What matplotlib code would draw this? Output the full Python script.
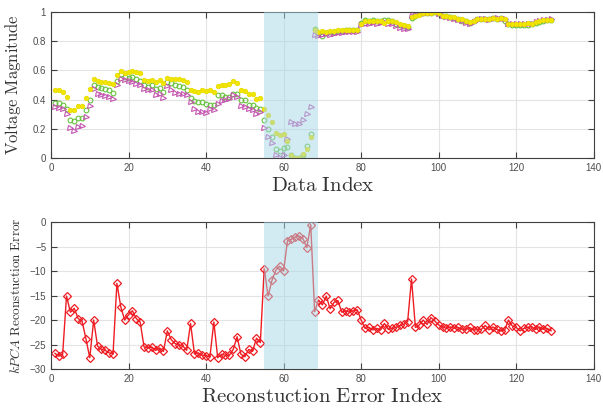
import numpy as np
import matplotlib
matplotlib.use('Agg')
import matplotlib.pyplot as plt

plt.rcParams['mathtext.fontset'] = 'cm'
plt.rcParams['font.family'] = ['Liberation Sans', 'DejaVu Sans']

idx = np.arange(1, 130)

# tension (3 séries)
volt_yellow = [0.463, 0.463, 0.452, 0.418, 0.331, 0.326, 0.354, 0.358, 0.411, 0.475,
               0.539, 0.527, 0.523, 0.518, 0.514, 0.509, 0.566, 0.596, 0.582, 0.589,
               0.594, 0.589, 0.582, 0.532, 0.525, 0.532, 0.521, 0.532, 0.516, 0.55,
               0.543, 0.543, 0.539, 0.537, 0.521, 0.468, 0.459, 0.452, 0.463, 0.457,
               0.463, 0.452, 0.493, 0.502, 0.502, 0.505, 0.527, 0.514, 0.468, 0.459,
               0.441, 0.441, 0.406, 0.411, 0.338, 0.292, 0.247, 0.171, 0.155, 0.167,
               0.116, 0.023, 0.003, 0.003, 0.025, 0.064, 0.144, 0.874, 0.863, 0.868,
               0.86, 0.868, 0.872, 0.875, 0.875, 0.878, 0.878, 0.878, 0.88, 0.92,
               0.938, 0.935, 0.94, 0.935, 0.938, 0.925, 0.935, 0.938, 0.93, 0.915,
               0.91, 0.905, 0.966, 0.975, 0.982, 0.99, 0.995, 0.99, 0.998, 0.99,
               0.975, 0.97, 0.965, 0.965, 0.955, 0.95, 0.94, 0.93, 0.94, 0.95,
               0.955, 0.955, 0.95, 0.96, 0.955, 0.96, 0.955, 0.92, 0.915, 0.918,
               0.92, 0.92, 0.925, 0.92, 0.93, 0.935, 0.945, 0.948, 0.948]
volt_green = [0.377, 0.377, 0.36, 0.338, 0.258, 0.251, 0.274, 0.274, 0.329, 0.4,
              0.502, 0.486, 0.482, 0.473, 0.463, 0.447, 0.525, 0.578, 0.555, 0.55,
              0.555, 0.539, 0.527, 0.498, 0.486, 0.498, 0.475, 0.479, 0.452, 0.521,
              0.514, 0.498, 0.493, 0.486, 0.463, 0.413, 0.39, 0.384, 0.384, 0.368,
              0.365, 0.365, 0.434, 0.429, 0.418, 0.418, 0.441, 0.436, 0.395, 0.395,
              0.365, 0.36, 0.345, 0.338, 0.258, 0.2, 0.144, 0.064, 0.048, 0.068,
              0.075, 0.023, 0.003, 0.003, 0.023, 0.08, 0.162, 0.881, 0.856, 0.835,
              0.855, 0.86, 0.865, 0.87, 0.872, 0.875, 0.875, 0.875, 0.878, 0.925,
              0.947, 0.94, 0.945, 0.94, 0.935, 0.945, 0.945, 0.935, 0.92, 0.91,
              0.905, 0.9, 0.96, 0.97, 0.985, 0.995, 0.995, 0.995, 1.0, 0.99,
              0.975, 0.97, 0.965, 0.96, 0.95, 0.94, 0.935, 0.925, 0.935, 0.95,
              0.955, 0.95, 0.95, 0.96, 0.955, 0.96, 0.94, 0.915, 0.912, 0.912,
              0.91, 0.912, 0.91, 0.915, 0.925, 0.93, 0.94, 0.945, 0.945]
volt_magenta = [0.35, 0.345, 0.333, 0.304, 0.205, 0.185, 0.212, 0.217, 0.281, 0.354,
                0.473, 0.441, 0.434, 0.425, 0.418, 0.404, 0.502, 0.543, 0.532, 0.525,
                0.521, 0.505, 0.502, 0.475, 0.468, 0.463, 0.434, 0.441, 0.411, 0.491,
                0.463, 0.445, 0.441, 0.441, 0.429, 0.384, 0.338, 0.315, 0.315, 0.308,
                0.338, 0.326, 0.372, 0.39, 0.4, 0.406, 0.429, 0.418, 0.356, 0.349,
                0.338, 0.326, 0.304, 0.315, 0.205, 0.144, 0.105, 0.018, 0.003, 0.018,
                0.128, 0.247, 0.23, 0.23, 0.258, 0.304, 0.35, 0.845, 0.833, 0.845,
                0.85, 0.845, 0.85, 0.855, 0.858, 0.86, 0.86, 0.862, 0.865, 0.91,
                0.92, 0.915, 0.925, 0.92, 0.925, 0.93, 0.92, 0.915, 0.905, 0.89,
                0.885, 0.885, 0.97, 0.977, 0.98, 0.985, 0.99, 0.995, 1.0, 0.985,
                0.97, 0.965, 0.96, 0.955, 0.945, 0.935, 0.925, 0.915, 0.93, 0.945,
                0.95, 0.95, 0.945, 0.955, 0.96, 0.955, 0.95, 0.92, 0.915, 0.915,
                0.915, 0.918, 0.915, 0.92, 0.93, 0.935, 0.945, 0.948, 0.95]

# erreur de reconstruction kPCA
kpca_err = [-26.8, -27.4, -27.0, -15.1, -18.4, -17.6, -19.7, -20.2, -23.8, -27.7,
            -20.0, -25.3, -26.0, -26.2, -26.7, -26.9, -12.5, -17.3, -20.0, -18.9,
            -18.1, -19.7, -20.4, -25.5, -25.7, -25.5, -26.2, -25.7, -26.4, -22.2,
            -24.0, -24.8, -25.1, -25.3, -26.2, -20.7, -26.9, -26.7, -27.2, -27.3,
            -27.5, -20.4, -27.7, -27.0, -27.2, -27.2, -26.0, -23.4, -27.0, -27.5,
            -26.0, -26.4, -23.7, -24.6, -9.5, -15.1, -11.9, -9.8, -9.0, -10.0,
            -3.8, -3.5, -3.0, -2.8, -3.4, -5.2, -0.5, -18.3, -15.9, -16.9,
            -15.1, -17.7, -16.4, -16.0, -18.4, -18.1, -18.4, -18.1, -17.9, -20.0,
            -21.7, -21.5, -22.0, -21.7, -22.0, -20.7, -21.9, -21.7, -21.5, -21.1,
            -20.9, -20.3, -11.6, -21.5, -21.0, -20.0, -20.9, -19.5, -20.2, -21.0,
            -21.4, -21.7, -21.4, -21.7, -21.5, -21.9, -21.9, -21.5, -22.0, -22.0,
            -21.9, -21.1, -22.0, -21.4, -21.9, -22.2, -22.1, -20.0, -21.2, -21.5,
            -22.2, -21.7, -21.5, -21.4, -21.9, -21.4, -21.9, -21.7, -22.2]

fault_span = (55, 69)


def style_ax(ax):
    ax.set_xlim(0, 140)
    ax.set_xticks(np.arange(0, 141, 20))
    ax.grid(True, color='#e3e3e3', lw=0.8)
    ax.set_axisbelow(True)
    ax.tick_params(direction='in', top=True, right=True, labelsize=7,
                   labelcolor='#4d4d4d', color='#404040', length=4)
    for s in ax.spines.values():
        s.set_color('#404040')


fig = plt.figure(figsize=(6.03, 4.09), dpi=100)

ax1 = fig.add_axes([0.0846, 0.6137, 0.900, 0.357])
ax1.plot(idx, volt_green, 'o', ms=3.4, mfc='none', mec='#66c23c', mew=0.8, zorder=2)
ax1.plot(idx, volt_magenta, '>', ms=3.6, mfc='none', mec='#c455b0', mew=0.8, zorder=2)
ax1.plot(idx, volt_yellow, 'o', ms=3.2, mfc='#f2e600', mec='#e8dc00', mew=0.6, zorder=2)
ax1.axvspan(*fault_span, color='#a6d8e6', alpha=0.5, lw=0, zorder=3)
ax1.set_ylim(0, 1)
ax1.set_yticks([0, 0.2, 0.4, 0.6, 0.8, 1])
ax1.set_yticklabels(['0', '0.2', '0.4', '0.6', '0.8', '1'])
style_ax(ax1)
ax1.set_xlabel(r'$\mathrm{Data\ Index}$', fontsize=15, color='#333333', labelpad=2)
ax1.set_ylabel(r'$\mathrm{Voltage\ Magnitude}$', fontsize=12, color='#333333', labelpad=7)

ax2 = fig.add_axes([0.0846, 0.0978, 0.900, 0.359])
ax2.plot(idx, kpca_err, '-', color='#ee1d23', lw=1.0, marker='D', ms=4.5,
         mfc='none', mec='#ee1d23', mew=0.9, zorder=2)
ax2.axvspan(*fault_span, color='#a6d8e6', alpha=0.5, lw=0, zorder=3)
ax2.set_ylim(-30, 0)
ax2.set_yticks(np.arange(-30, 1, 5))
style_ax(ax2)
ax2.set_xlabel(r'$\mathrm{Reconstuction\ Error\ Index}$', fontsize=15, color='#333333', labelpad=2)
ax2.set_ylabel(r'$\mathit{kPCA}\ \mathrm{Reconstuction\ Error}$', fontsize=9.5, color='#333333', labelpad=5)

fig.savefig('out.png', dpi=100)
